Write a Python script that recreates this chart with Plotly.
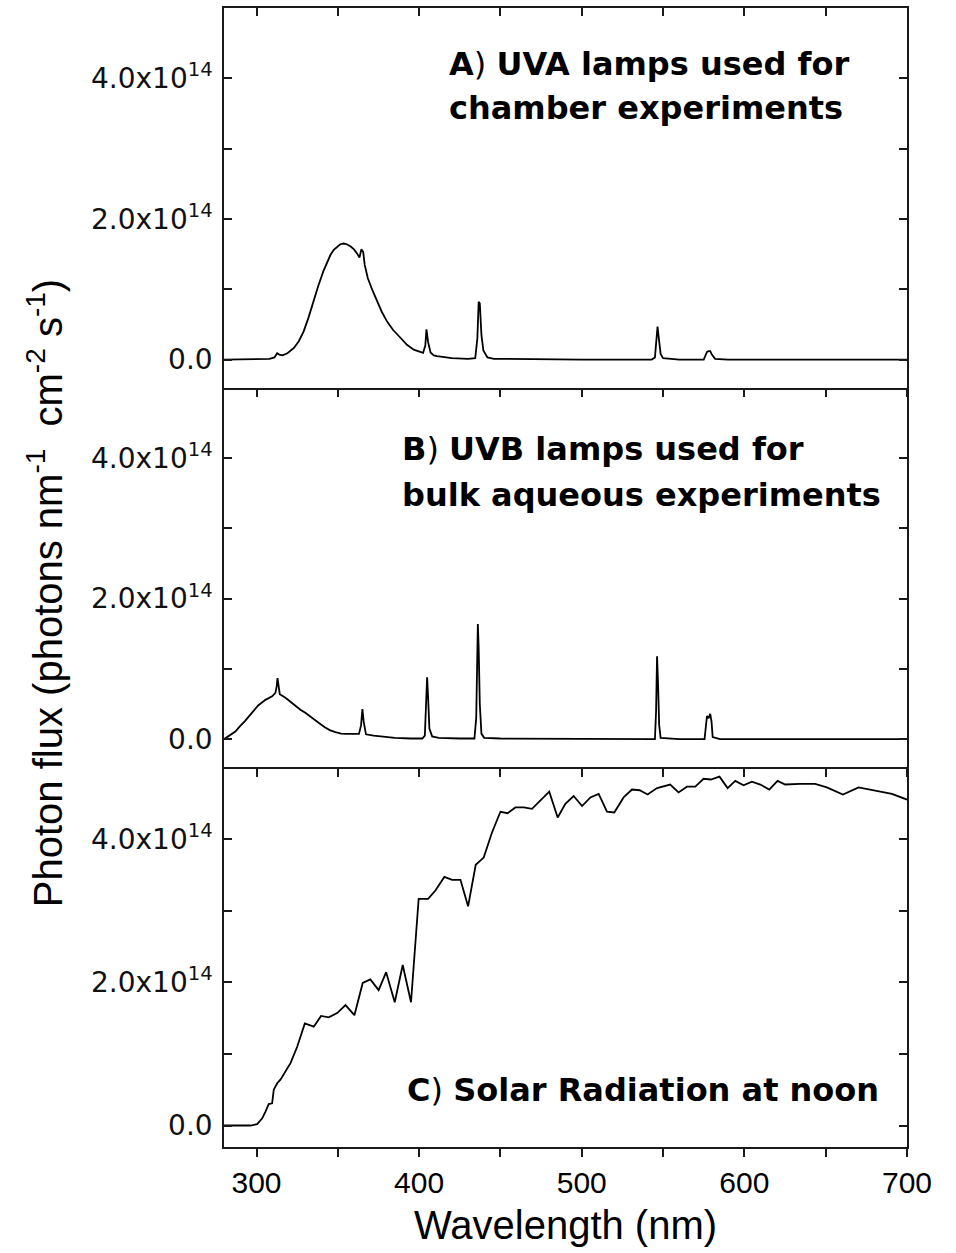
import plotly.graph_objects as go

# ---------------- data (photon flux in units of 1e14 photons nm-1 cm-2 s-1) ----------------
uva_wl = [280, 300, 308, 311, 312.7, 314, 316, 319, 323, 326, 329, 332, 335, 338, 341, 343.5, 345.5,
          347.5, 349.6, 351.5, 353.6, 355.5, 357.7, 359.8, 361.8, 363.3, 364.5, 365.6, 366.5, 368.4,
          371, 374.2, 377, 380.3, 384, 388.5, 392.5, 396.7, 400, 402.4, 403.8, 404.5, 405.5, 407,
          409, 411, 420, 430, 434.5, 435.8, 436.6, 437.3, 438.3, 439.5, 442, 446, 500, 543, 545,
          546, 546.6, 547.4, 548.5, 550, 560, 575, 576, 577, 578, 579, 580, 582, 590, 650, 656, 700]
uva_flux = [0, 0, 0.01, 0.03, 0.09, 0.07, 0.06, 0.09, 0.165, 0.26, 0.40, 0.60, 0.83, 1.05, 1.25,
            1.39, 1.49, 1.56, 1.61, 1.64, 1.65, 1.64, 1.61, 1.57, 1.51, 1.45, 1.57, 1.53, 1.35,
            1.16, 1.0, 0.83, 0.68, 0.54, 0.42, 0.31, 0.21, 0.14, 0.11, 0.094, 0.2, 0.43, 0.25,
            0.10, 0.06, 0.05, 0.02, 0.01, 0.02, 0.3, 0.82, 0.8, 0.35, 0.13, 0.03, 0.01, 0.0, 0.0,
            0.03, 0.3, 0.47, 0.3, 0.08, 0.02, 0.0, 0.0, 0.05, 0.11, 0.12, 0.12, 0.07, 0.01, 0.0,
            0.0, 0.0, 0.0]

uvb_wl = [280, 283, 287, 290, 293, 297, 301, 305.5, 309.6, 311.6, 312.4, 312.9, 313.5, 314.3, 317.8,
          321, 324, 327, 330, 333, 336, 339, 342, 345, 348.5, 352, 355, 363, 364.3, 365.1, 365.9,
          367.3, 372, 377, 385, 395, 402, 403.5, 404.3, 404.9, 405.5, 406.3, 408, 412, 425, 434,
          435.1, 435.7, 436.1, 436.6, 437.3, 438.3, 440, 450, 500, 545, 545.7, 546.3, 546.9,
          547.6, 548.5, 560, 575.5, 576.3, 577, 578, 579, 579.8, 580.5, 585, 640, 680, 693, 695, 700]
uvb_flux = [0, 0.05, 0.11, 0.19, 0.26, 0.37, 0.48, 0.56, 0.61, 0.66, 0.75, 0.87, 0.78, 0.64, 0.59,
            0.53, 0.47, 0.42, 0.375, 0.32, 0.27, 0.22, 0.17, 0.13, 0.10, 0.08, 0.075, 0.075, 0.2,
            0.43, 0.25, 0.07, 0.05, 0.035, 0.02, 0.01, 0.01, 0.05, 0.5, 0.88, 0.6, 0.15, 0.04,
            0.02, 0.01, 0.01, 0.3, 1.2, 1.64, 1.3, 0.5, 0.08, 0.02, 0.01, 0.0, 0.0, 0.4, 1.18,
            0.8, 0.2, 0.02, 0.0, 0.0, 0.25, 0.33, 0.3, 0.36, 0.25, 0.03, 0.0, 0.0, 0.0, 0.01,
            0.0, 0.0]

solar_wl = [280, 296.3, 300.4, 303.5, 305.5, 307.5, 309.6, 310.6, 312.7, 314.7, 320.9, 325, 329.7,
            335.2, 339.7, 344.4, 349.6, 354.7, 360.2, 365.3, 370, 375.1, 379.7, 385, 389.9, 395,
            399.7, 405.5, 410, 415.5, 420.3, 425.4, 430.1, 434.8, 439.7, 444.8, 450, 454.4, 459.2,
            464.3, 469.4, 474.5, 480, 485.2, 489.9, 495, 500.2, 505.3, 510.4, 515.5, 520, 525.7,
            530.9, 535.6, 540.5, 546.3, 554.4, 559.5, 564.7, 569.8, 574.9, 579.4, 584.7, 589.7,
            594.4, 599.5, 604.6, 609.8, 615.3, 620.4, 625.1, 634.3, 643.5, 650.7, 660.6, 670.2,
            680.4, 690.7, 700]
solar_flux = [0, 0, 0.02, 0.10, 0.195, 0.30, 0.31, 0.50, 0.59, 0.64, 0.87, 1.10, 1.425, 1.38, 1.53,
              1.51, 1.57, 1.68, 1.54, 1.99, 2.04, 1.89, 2.14, 1.72, 2.24, 1.72, 3.165, 3.165, 3.28,
              3.47, 3.43, 3.43, 3.06, 3.64, 3.74, 4.09, 4.38, 4.36, 4.44, 4.44, 4.42, 4.54, 4.66,
              4.30, 4.49, 4.60, 4.46, 4.58, 4.63, 4.38, 4.37, 4.58, 4.69, 4.68, 4.62, 4.71, 4.76,
              4.65, 4.73, 4.73, 4.84, 4.83, 4.87, 4.71, 4.81, 4.75, 4.80, 4.76, 4.69, 4.81, 4.76,
              4.77, 4.77, 4.72, 4.62, 4.72, 4.68, 4.63, 4.55]

x_tick_vals = [300, 350, 400, 450, 500, 550, 600, 650, 700]
x_tick_text = ["300", "", "400", "", "500", "", "600", "", "700"]
y_tick_vals = [0, 1e14, 2e14, 3e14, 4e14]
y_tick_text = ["0.0", "", "2.0x10<sup>14</sup>", "", "4.0x10<sup>14</sup>"]

panel_labels = [
    ("<b>A</b>) <b>UVA lamps used for</b>", 417.4, 4.21, "y"),
    ("<b>chamber experiments</b>", 417.4, 3.58, "y"),
    ("<b>B</b>) <b>UVB lamps used for</b>", 388.5, 4.13, "y2"),
    ("<b>bulk aqueous experiments</b>", 388.5, 3.47, "y2"),
    ("<b>C</b>) <b>Solar Radiation at noon</b>", 391.6, 0.49, "y3"),
]

# ---------------- figure ----------------
LINE = dict(color="black", width=1.8)
fig = go.Figure()
fig.add_trace(go.Scatter(x=uva_wl, y=[v * 1e14 for v in uva_flux], mode="lines", line=LINE,
                         xaxis="x", yaxis="y", showlegend=False))
fig.add_trace(go.Scatter(x=uvb_wl, y=[v * 1e14 for v in uvb_flux], mode="lines", line=LINE,
                         xaxis="x2", yaxis="y2", showlegend=False))
fig.add_trace(go.Scatter(x=solar_wl, y=[v * 1e14 for v in solar_flux], mode="lines", line=LINE,
                         xaxis="x3", yaxis="y3", showlegend=False))
# dummy trace so the top tick axis of panel A is drawn
fig.add_trace(go.Scatter(x=[None], y=[None], xaxis="x4", yaxis="y", showlegend=False,
                         hoverinfo="skip"))

FRAME = "#1a1a1a"
TICKFONT_X = dict(family="Liberation Sans Narrow, Liberation Sans, Arial, sans-serif",
                  size=30, color="black")
TICKFONT_Y = dict(family="DejaVu Sans, sans-serif", size=28, color="#111")


def xax(anchor, labels, mirror):
    return dict(range=[280, 700], domain=[0, 1], anchor=anchor, tickmode="array",
                tickvals=x_tick_vals, ticktext=x_tick_text if labels else [""] * len(x_tick_vals),
                showticklabels=labels, ticks="outside", ticklen=8, tickwidth=1.5,
                tickcolor=FRAME, showline=True, linecolor=FRAME, linewidth=1.5,
                mirror=mirror, showgrid=False, zeroline=False, tickfont=TICKFONT_X)


def yax(anchor, dom, rng):
    return dict(range=rng, domain=dom, anchor=anchor, tickmode="array", tickvals=y_tick_vals,
                ticktext=y_tick_text, ticks="inside", ticklen=8, tickwidth=1.5,
                tickcolor=FRAME, showline=True, linecolor=FRAME, linewidth=1.5,
                mirror="ticks", showgrid=False, zeroline=False, tickfont=TICKFONT_Y,
                ticklabelstandoff=4)


fig.update_layout(
    width=956, height=1253,
    margin=dict(l=224, r=49, t=6, b=106),
    paper_bgcolor="white", plot_bgcolor="white",
    xaxis=xax("y", False, True),
    xaxis2=xax("y2", False, False),
    xaxis3=xax("y3", True, False),
    xaxis4=dict(range=[280, 700], overlaying="x", anchor="y", side="top", tickmode="array",
                tickvals=x_tick_vals, showticklabels=False, ticks="inside", ticklen=8,
                tickwidth=1.5, tickcolor=FRAME, showline=False, showgrid=False,
                zeroline=False),
    yaxis=yax("x", [2 / 3, 1], [-0.4e14, 5.0e14]),
    yaxis2=yax("x2", [1 / 3, 2 / 3], [-0.4e14, 5.0e14]),
    yaxis3=yax("x3", [0, 1 / 3], [-0.3e14, 5.0e14]),
)

for text, xv, yv, yr in panel_labels:
    fig.add_annotation(text=text, x=xv, y=yv * 1e14, xref="x", yref=yr, xanchor="left",
                       yanchor="middle", showarrow=False,
                       font=dict(family="DejaVu Sans, sans-serif", size=32, color="black"))

fig.add_annotation(text="Wavelength (nm)", x=0.5, y=-0.0684, xref="paper", yref="paper",
                   xanchor="center", yanchor="middle", showarrow=False,
                   font=dict(family="Liberation Sans Narrow, Liberation Sans, sans-serif",
                             size=40, color="black"))
fig.add_annotation(text="Photon flux (photons nm<sup>-1</sup>  cm<sup>-2</sup> s<sup>-1</sup>)",
                   x=-0.261, y=0.486, xref="paper", yref="paper", textangle=-90,
                   xanchor="center", yanchor="middle", showarrow=False,
                   font=dict(family="Liberation Sans Narrow, Liberation Sans, sans-serif",
                             size=40, color="black"))

fig.write_html("out.html")
